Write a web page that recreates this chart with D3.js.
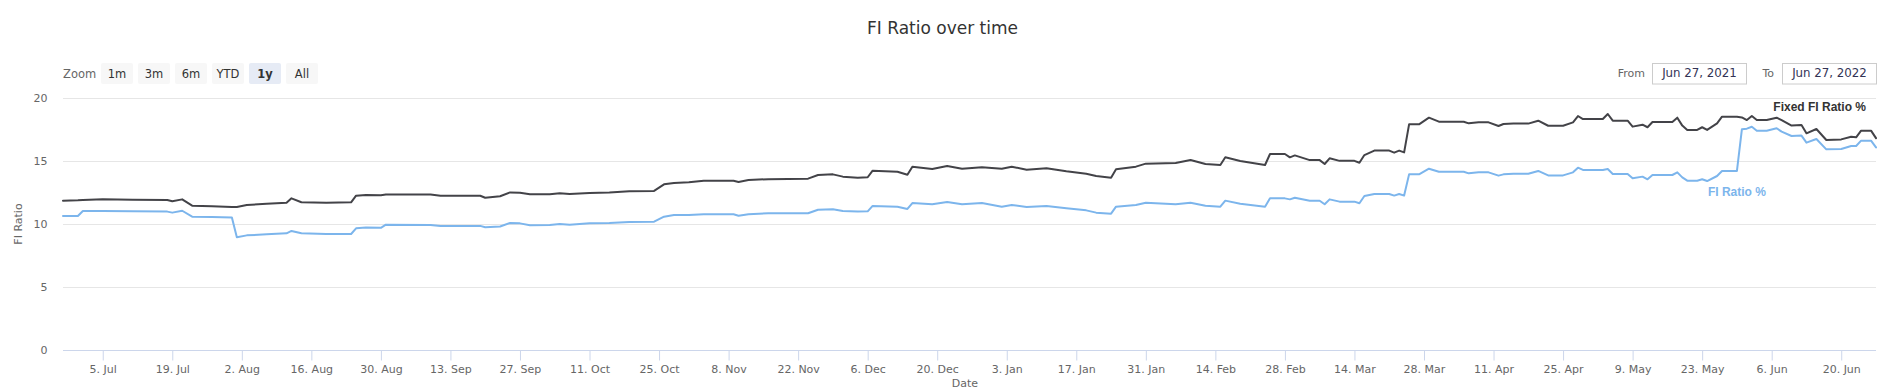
<!DOCTYPE html>
<html>
<head>
<meta charset="utf-8">
<script src="https://cdn.jsdelivr.net/npm/d3@7"></script>
<style>
  html, body { margin: 0; padding: 0; background: #fff; }
  svg { display: block; font-family: "DejaVu Sans", sans-serif; }
</style>
</head>
<body>
<svg id="chart" width="1885" height="389"></svg>
<script>
// ---- data ----
const dates = [
  "2021-06-27","2021-06-30","2021-07-01","2021-07-05","2021-07-11","2021-07-18","2021-07-19","2021-07-21",
  "2021-07-23","2021-07-27","2021-07-31","2021-08-01","2021-08-03","2021-08-07","2021-08-11","2021-08-12",
  "2021-08-14","2021-08-19","2021-08-24","2021-08-25","2021-08-27","2021-08-30","2021-08-31","2021-09-09",
  "2021-09-11","2021-09-19","2021-09-20","2021-09-23","2021-09-25","2021-09-27","2021-09-29","2021-10-03",
  "2021-10-05","2021-10-07","2021-10-11","2021-10-15","2021-10-19","2021-10-24","2021-10-26","2021-10-28",
  "2021-10-31","2021-11-03","2021-11-09","2021-11-10","2021-11-12","2021-11-16","2021-11-24","2021-11-26",
  "2021-11-29","2021-12-01","2021-12-04","2021-12-06","2021-12-07","2021-12-12","2021-12-14","2021-12-15",
  "2021-12-19","2021-12-22","2021-12-25","2021-12-29","2022-01-02","2022-01-04","2022-01-07","2022-01-11",
  "2022-01-15","2022-01-19","2022-01-21","2022-01-24","2022-01-25","2022-01-29","2022-01-31","2022-02-06",
  "2022-02-09","2022-02-12","2022-02-15","2022-02-16","2022-02-19","2022-02-24","2022-02-25","2022-02-28",
  "2022-03-01","2022-03-02","2022-03-05","2022-03-07","2022-03-08","2022-03-09","2022-03-11","2022-03-14",
  "2022-03-15","2022-03-16","2022-03-18","2022-03-21","2022-03-22","2022-03-23","2022-03-24","2022-03-25",
  "2022-03-27","2022-03-29","2022-03-31","2022-04-05","2022-04-06","2022-04-08","2022-04-10","2022-04-12",
  "2022-04-13","2022-04-15","2022-04-18","2022-04-20","2022-04-22","2022-04-25","2022-04-27","2022-04-28",
  "2022-04-29","2022-05-03","2022-05-04","2022-05-05","2022-05-08","2022-05-09","2022-05-11","2022-05-12",
  "2022-05-13","2022-05-17","2022-05-18","2022-05-19","2022-05-20","2022-05-22","2022-05-23","2022-05-24",
  "2022-05-26","2022-05-27","2022-05-30","2022-05-31","2022-06-01","2022-06-02","2022-06-03","2022-06-05",
  "2022-06-07","2022-06-08","2022-06-10","2022-06-12","2022-06-13","2022-06-15","2022-06-17","2022-06-20",
  "2022-06-22","2022-06-23","2022-06-24","2022-06-26","2022-06-27"
];
const fixedRatio = [
  11.85,11.88,11.90,11.95,11.92,11.90,11.80,11.95,
  11.45,11.40,11.35,11.35,11.50,11.60,11.68,12.03,
  11.72,11.68,11.72,12.24,12.30,12.28,12.34,12.34,
  12.24,12.24,12.08,12.20,12.50,12.48,12.35,12.35,
  12.43,12.38,12.45,12.50,12.60,12.62,13.14,13.25,
  13.30,13.43,13.43,13.33,13.48,13.55,13.59,13.88,
  13.93,13.75,13.67,13.70,14.22,14.14,13.90,14.54,
  14.36,14.60,14.38,14.49,14.38,14.54,14.30,14.41,
  14.17,13.98,13.80,13.67,14.33,14.54,14.78,14.83,
  15.07,14.75,14.67,15.28,14.99,14.67,15.54,15.54,
  15.28,15.43,15.06,15.06,14.75,15.20,15.00,15.00,
  14.85,15.46,15.81,15.81,15.65,15.81,15.67,17.89,
  17.89,18.42,18.10,18.10,17.97,18.05,18.05,17.76,
  17.92,17.95,17.95,18.18,17.78,17.78,18.05,18.55,
  18.31,18.31,18.71,18.18,18.18,17.71,17.86,17.66,
  18.08,18.08,18.42,17.79,17.45,17.45,17.66,17.45,
  17.97,18.50,18.50,18.44,18.23,18.55,18.23,18.23,
  18.42,18.23,17.79,17.84,17.18,17.52,16.65,16.70,
  16.91,16.86,17.39,17.39,16.80
];
const fiRatio = [
  10.63,10.63,11.03,11.03,11.00,10.98,10.90,11.05,
  10.58,10.55,10.52,8.95,9.10,9.18,9.26,9.45,
  9.26,9.21,9.21,9.66,9.72,9.70,9.95,9.93,
  9.85,9.85,9.74,9.80,10.08,10.05,9.90,9.92,
  10.00,9.95,10.05,10.08,10.15,10.18,10.58,10.71,
  10.71,10.77,10.77,10.66,10.77,10.85,10.85,11.13,
  11.16,11.03,10.98,11.00,11.43,11.37,11.19,11.66,
  11.56,11.74,11.56,11.66,11.37,11.50,11.35,11.43,
  11.24,11.08,10.90,10.82,11.37,11.50,11.69,11.56,
  11.69,11.45,11.37,11.85,11.61,11.37,12.03,12.03,
  11.95,12.08,11.84,11.84,11.56,11.95,11.77,11.77,
  11.64,12.22,12.38,12.38,12.25,12.38,12.25,13.93,
  13.93,14.38,14.14,14.14,14.01,14.09,14.09,13.83,
  13.93,13.98,13.98,14.20,13.85,13.85,14.09,14.46,
  14.28,14.28,14.36,13.96,13.96,13.62,13.75,13.54,
  13.88,13.88,14.09,13.69,13.43,13.43,13.54,13.40,
  13.80,14.20,14.20,17.50,17.55,17.70,17.39,17.39,
  17.58,17.31,16.97,17.00,16.44,16.73,15.91,15.94,
  16.18,16.18,16.60,16.60,16.07
];
const seriesNames = ["Fixed FI Ratio %", "FI Ratio %"];
const seriesColors = ["#434348", "#7cb5ec"];
const yTicks = [0, 5, 10, 15, 20];
const zoomButtons = ["1m", "3m", "6m", "YTD", "1y", "All"];
const selectedButton = "1y";
const rangeFrom = "Jun 27, 2021";
const rangeTo = "Jun 27, 2022";
const chartTitle = "FI Ratio over time";
const xTitle = "Date";
const yTitle = "FI Ratio";

// ---- layout ----
const W = 1885, H = 389;
const plot = { left: 63, right: 1876, top: 97.7, bottom: 350.3 };
const parse = d3.utcParse("%Y-%m-%d");
const dateObjs = dates.map(parse);

const x = d3.scaleUtc()
  .domain([parse("2021-06-27"), parse("2022-06-27")])
  .range([plot.left, plot.right]);
const y = d3.scaleLinear().domain([0, 20]).range([plot.bottom, plot.top]);

const svg = d3.select("#chart");

// title
svg.append("text")
  .attr("x", W / 2).attr("y", 34)
  .attr("text-anchor", "middle")
  .attr("fill", "#333333")
  .style("font-size", "17px")
  .text(chartTitle);

// range selector
const rs = svg.append("g");
rs.append("text").attr("x", 63).attr("y", 78)
  .attr("fill", "#666666").style("font-size", "11.5px").text("Zoom");
const btn = rs.selectAll("g.btn").data(zoomButtons).join("g")
  .attr("class", "btn")
  .attr("transform", (d, i) => `translate(${101 + i * 37},63)`);
btn.append("rect").attr("width", 32).attr("height", 21).attr("rx", 2)
  .attr("fill", d => d === selectedButton ? "#e6ebf5" : "#f7f7f7");
btn.append("text").attr("x", 16).attr("y", 15)
  .attr("text-anchor", "middle")
  .attr("fill", "#333333")
  .style("font-size", "11.5px")
  .style("font-weight", d => d === selectedButton ? "bold" : "normal")
  .text(d => d);

// from / to inputs
const inputs = [
  { label: "From", value: rangeFrom, lx: 1645, bx: 1652.5 },
  { label: "To", value: rangeTo, lx: 1774, bx: 1782.5 }
];
const inp = svg.selectAll("g.inp").data(inputs).join("g").attr("class", "inp");
inp.append("text").attr("x", d => d.lx).attr("y", 76.5)
  .attr("text-anchor", "end").attr("fill", "#666666")
  .style("font-size", "11px").text(d => d.label);
inp.append("rect").attr("x", d => d.bx).attr("y", 63.5)
  .attr("width", 94).attr("height", 20.5)
  .attr("fill", "#fff").attr("stroke", "#cccccc").attr("stroke-width", 1);
inp.append("text").attr("x", d => d.bx + 47).attr("y", 77)
  .attr("text-anchor", "middle").attr("fill", "#333355")
  .style("font-size", "11.8px").text(d => d.value);

// gridlines + y labels
const grid = svg.append("g");
grid.selectAll("line").data(yTicks.filter(t => t !== 0)).join("line")
  .attr("x1", plot.left).attr("x2", plot.right)
  .attr("y1", d => Math.round(y(d)) + 0.5).attr("y2", d => Math.round(y(d)) + 0.5)
  .attr("stroke", "#e6e6e6").attr("stroke-width", 1);
grid.selectAll("text").data(yTicks).join("text")
  .attr("x", 47.5).attr("y", d => y(d) + 4)
  .attr("text-anchor", "end").attr("fill", "#666666")
  .style("font-size", "11px").text(d => d);

// y title
svg.append("text")
  .attr("transform", `translate(22,${(plot.top + plot.bottom) / 2}) rotate(-90)`)
  .attr("text-anchor", "middle").attr("fill", "#666666")
  .style("font-size", "11px").text(yTitle);

// x axis
const xTicks = d3.utcDay.every(14).range ? d3.utcDays(parse("2021-07-05"), parse("2022-06-27"), 14) : [];
const fmt = d3.utcFormat("%-d. %b");
const xAxis = d3.axisBottom(x).tickValues(xTicks).tickFormat(fmt).tickSize(10).tickPadding(5);
const gx = svg.append("g").attr("transform", `translate(0,${Math.round(plot.bottom) + 0.5})`).call(xAxis);
gx.select(".domain").attr("stroke", "#ccd6eb").attr("d", `M${plot.left},0H${plot.right}`);
gx.selectAll(".tick line").attr("stroke", "#ccd6eb");
gx.selectAll(".tick text").attr("fill", "#666666").style("font-size", "11px")
  .style("font-family", "DejaVu Sans, sans-serif");

// x title
svg.append("text").attr("x", 965).attr("y", 387)
  .attr("text-anchor", "middle").attr("fill", "#666666")
  .style("font-size", "11px").text(xTitle);

// lines
const seriesData = [fixedRatio, fiRatio];
const line = d3.line()
  .x((d, i) => x(dateObjs[i]))
  .y(d => y(d));
svg.append("g").selectAll("path").data(seriesData).join("path")
  .attr("d", d => line(d))
  .attr("fill", "none")
  .attr("stroke", (d, i) => seriesColors[i])
  .attr("stroke-width", 2)
  .attr("stroke-linejoin", "round")
  .attr("stroke-linecap", "round");

// series labels
svg.append("text")
  .attr("x", x(parse("2022-06-27")) - 10).attr("y", y(19.3))
  .attr("dominant-baseline", "central")
  .attr("text-anchor", "end")
  .attr("fill", "#333333")
  .style("font-family", "Liberation Sans, Arial, sans-serif")
  .style("font-weight", "bold").style("font-size", "12px")
  .text(seriesNames[0]);
svg.append("text")
  .attr("x", x(parse("2022-05-30"))).attr("y", y(12.55))
  .attr("dominant-baseline", "central")
  .attr("text-anchor", "middle")
  .attr("fill", seriesColors[1])
  .style("font-family", "Liberation Sans, Arial, sans-serif")
  .style("font-weight", "bold").style("font-size", "12px")
  .text(seriesNames[1]);
</script>
</body>
</html>
